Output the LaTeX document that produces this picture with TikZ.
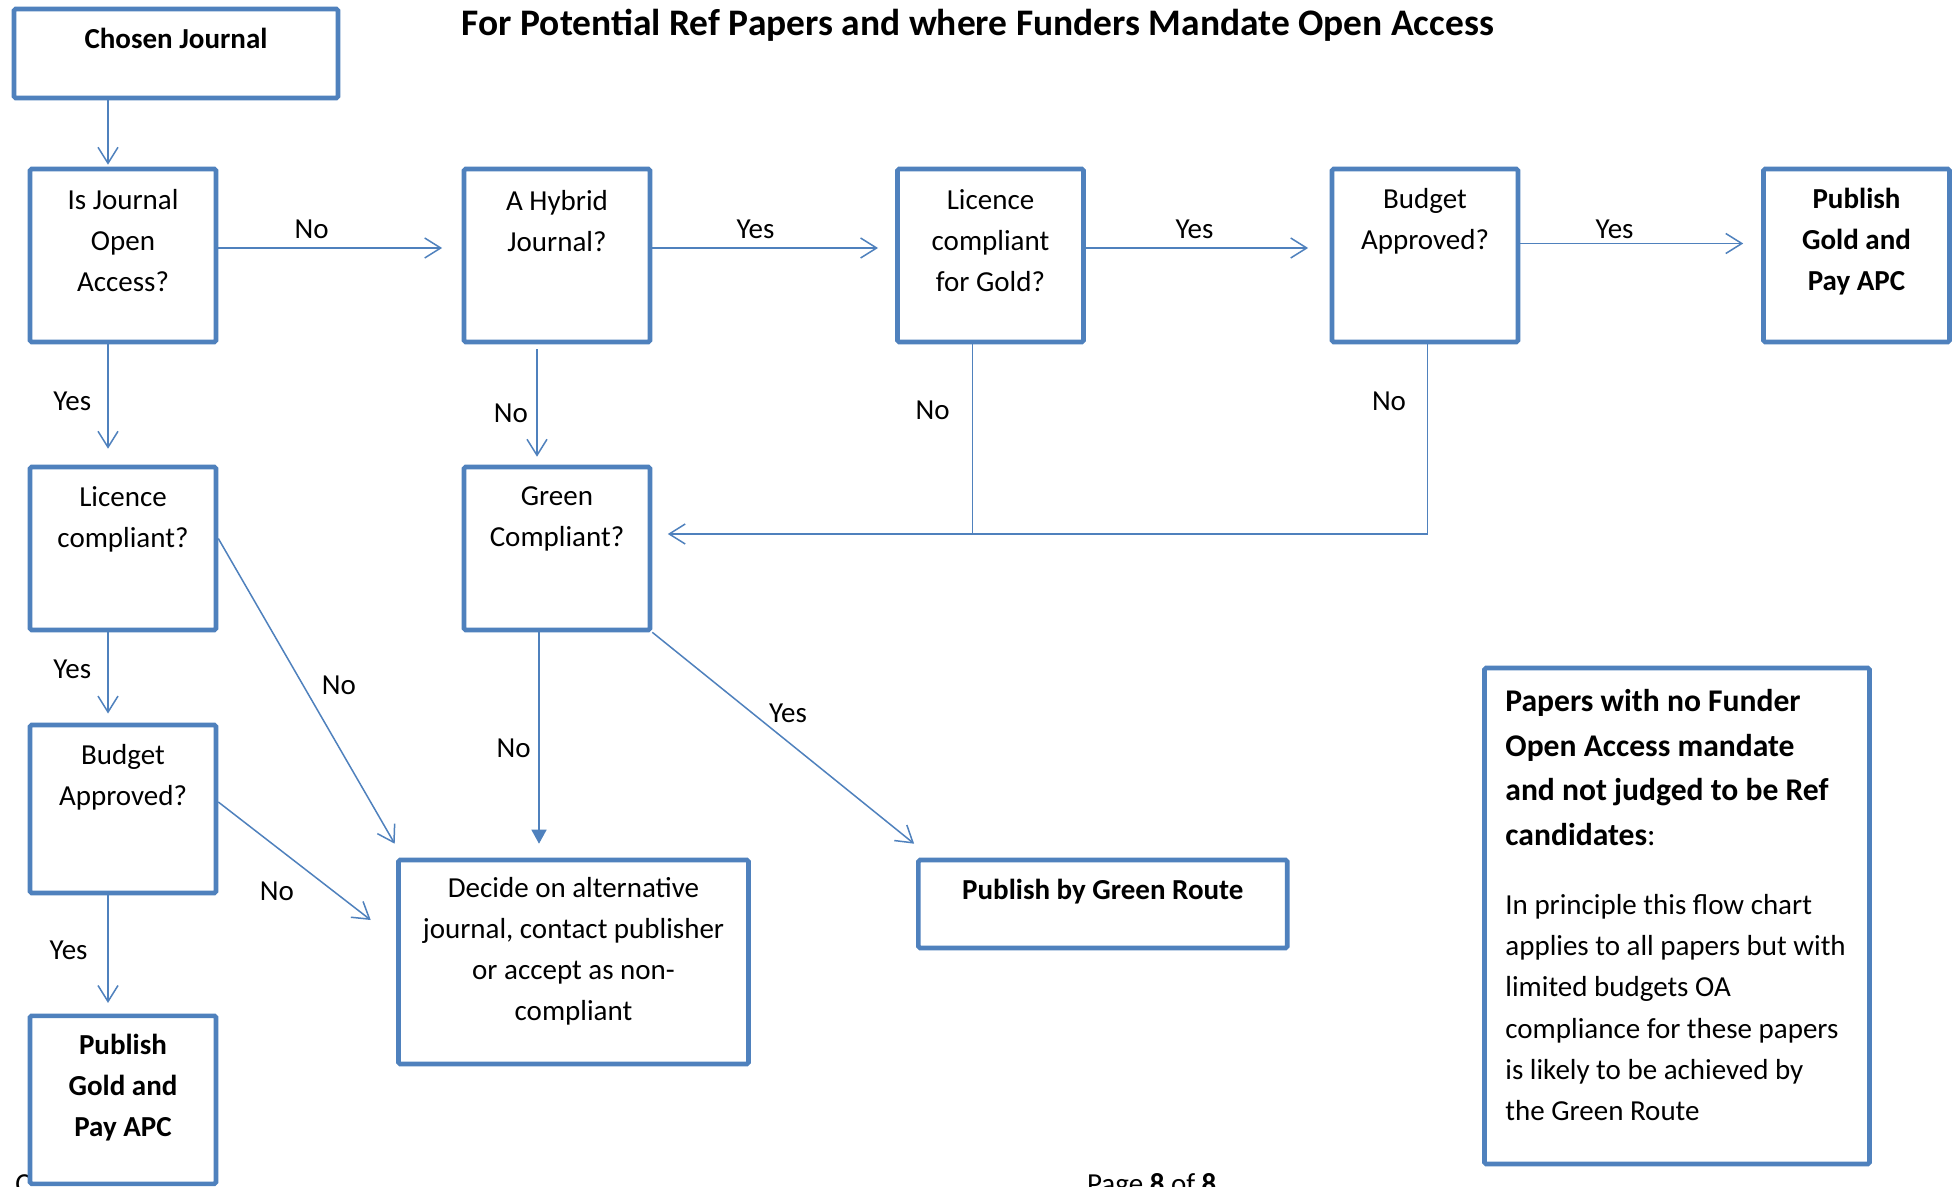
\documentclass[tikz,border=0pt]{standalone}
\usepackage{fontspec}
\setmainfont{Carlito}
\usetikzlibrary{arrows.meta,calc}
\definecolor{bordc}{HTML}{4F81BD}
\definecolor{linec}{HTML}{4F81BD}
\begin{document}
\begin{tikzpicture}[x=0.5pt,y=-0.5pt,
  box/.style={draw=bordc, line width=2.3pt, fill=white, rounded corners=0.8pt, inner sep=0pt},
  qbox/.style={box, minimum width=93pt, minimum height=86.5pt},
  conn/.style={draw=linec, line width=0.75pt, -{Straight Barb[length=8pt,width=10pt]}},
  plainline/.style={draw=linec, line width=0.75pt},
  solidtip/.style={draw=linec, line width=0.75pt, -{Triangle[length=7pt,width=7.5pt]}},
  txt/.style={font=\fontsize{14.5}{20.5}\selectfont, align=center, inner sep=0pt},
  btxt/.style={font=\bfseries\fontsize{14.5}{20.5}\selectfont, align=center, inner sep=0pt},
  lbl/.style={font=\fontsize{14.5}{16}\selectfont, inner sep=0pt}]
\useasboundingbox (0,0) rectangle (1955,1187);
\fill[white] (0,0) rectangle (1955,1187);

% footer (cut by page edge, as in the reference)
\node[lbl, anchor=base west] (footc) at (15,1193.7) {C};
\node[lbl, anchor=base west] (footp) at (1086.7,1193.7) {Page \textbf{8} of \textbf{8}};

% title
\node[inner sep=0pt] (title) at (978,25) {\resizebox{516pt}{!}{\bfseries\fontsize{17}{20}\selectfont For Potential Ref Papers and where Funders Mandate Open Access}};

% boxes
\node[box, minimum width=162pt, minimum height=44.5pt] (chosen) at (176,53.5) {};
\node[qbox] (isoa) at (123,255.5) {};
\node[qbox] (hybrid) at (557,255.5) {};
\node[qbox] (licgold) at (990.5,255.5) {};
\node[qbox] (budgetA) at (1425,255.5) {};
\node[qbox] (pubA) at (1856.5,255.5) {};
\node[box, minimum width=93pt, minimum height=81.5pt] (lic) at (123,548.5) {};
\node[box, minimum width=93pt, minimum height=81.5pt] (green) at (557,548.5) {};
\node[box, minimum width=93pt, minimum height=84pt] (budgetB) at (123,809) {};
\node[box, minimum width=93pt, minimum height=84pt] (pubB) at (123,1099.8) {};
\node[box, minimum width=175pt, minimum height=102pt] (decide) at (573.5,962) {};
\node[box, minimum width=184.4pt, minimum height=44pt] (pubgreen) at (1102.8,904) {};
\node[box, minimum width=192.5pt, minimum height=248pt] (note) at (1677,916) {};

% helper coordinates
\coordinate (xL) at (108,0);
\coordinate (xH) at (537,0);
\coordinate (xG) at (539,0);
\coordinate (yR) at (0,248);
\coordinate (yR2) at (0,243.5);
\coordinate (j1) at (972.5,534);
\coordinate (j2) at (1427.6,534);

% connectors
\draw[conn, shorten >=1pt] (chosen.south -| xL) -- (isoa.north -| xL);
\draw[conn, shorten >=8pt] (isoa.south -| xL) -- (lic.north -| xL);
\draw[conn, shorten >=4.6pt] (lic.south -| xL) -- (budgetB.north -| xL);
\draw[conn, shorten >=5.3pt] (budgetB.south -| xL) -- (pubB.north -| xL);
\draw[conn, shorten >=9.8pt] (isoa.east |- yR) -- (hybrid.west |- yR);
\draw[conn, shorten >=8.6pt] (hybrid.east |- yR) -- (licgold.west |- yR);
\draw[conn, shorten >=10.8pt] (licgold.east |- yR) -- (budgetA.west |- yR);
\draw[conn, shorten >=9pt] (budgetA.east |- yR2) -- (pubA.west |- yR2);
\draw[conn, shorten <=2.5pt, shorten >=4pt] (hybrid.south -| xH) -- (green.north -| xH);
\draw[plainline] (licgold.south -| j1) -- (j1);
\draw[conn, shorten >=7.75pt] (budgetA.south -| j2) -- (j2) -- (green.east |- j2);
\draw[solidtip, shorten >=7pt] (green.south -| xG) -- (decide.north -| xG);
\draw[conn] ($(lic.east)+(0,-10)$) -- ($(decide.north west)+(-1.5,-14)$);
\draw[conn] ($(budgetB.east)+(0,-7)$) -- ($(decide.west)+(-25.5,-42)$);
\draw[conn] (green.south east) -- ($(pubgreen.north west)+(-2,-14)$);

% connector labels
\node[lbl] (l1) at (311.7,229) {No};
\node[lbl] (l2) at (755.5,229) {Yes};
\node[lbl] (l3) at (1194.4,229) {Yes};
\node[lbl] (l4) at (1614.6,229) {Yes};
\node[lbl] (l5) at (72.3,401) {Yes};
\node[lbl] (l6) at (511,413.7) {No};
\node[lbl] (l7) at (932.6,410) {No};
\node[lbl] (l8) at (1389,401) {No};
\node[lbl] (l9) at (339,685.5) {No};
\node[lbl] (l10) at (72.3,669.3) {Yes};
\node[lbl] (l11) at (276.8,891.2) {No};
\node[lbl] (l12) at (68.6,949.8) {Yes};
\node[lbl] (l13) at (513.7,747.8) {No};
\node[lbl] (l14) at (788,713) {Yes};

% box texts
\node[btxt] (tchosen) at (176,38.5) {Chosen Journal};
\node[txt] (tisoa) at (123,240.6) {Is Journal\\Open\\Access?};
\node[txt] (thybrid) at (557,221) {A Hybrid\\Journal?};
\node[txt] (tlicgold) at (990.5,240.6) {Licence\\compliant\\for Gold?};
\node[txt] (tbudgetA) at (1425,221) {Budget\\Approved?};
\node[btxt] (tpubA) at (1856.5,241.6) {Publish\\Gold and\\Pay APC};
\node[txt] (tlic) at (123,519) {Licence\\compliant?};
\node[txt] (tgreen) at (557,519) {Green\\Compliant?};
\node[txt] (tbudgetB) at (123,777.5) {Budget\\Approved?};
\node[btxt] (tpubB) at (123,1087.5) {Publish\\Gold and\\Pay APC};
\node[txt] (tdecide) at (573.5,951.5) {Decide on alternative\\journal, contact publisher\\or accept as non-\\compliant};
\node[btxt] (tpubgreen) at (1102.8,891.5) {Publish by Green Route};
\node[font=\fontsize{15.8}{22.4}\selectfont, align=left, inner sep=0pt, anchor=west] (nhead) at (1505,767.5)
  {\textbf{Papers with no Funder}\\\textbf{Open Access mandate}\\\textbf{and not judged to be Ref}\\\textbf{candidates}:};
\node[font=\fontsize{14.5}{20.6}\selectfont, align=left, inner sep=0pt, anchor=west] (nbody) at (1505,1007.5)
  {In principle this flow chart\\applies to all papers but with\\limited budgets OA\\compliance for these papers\\is likely to be achieved by\\the Green Route};
\end{tikzpicture}
\end{document}
